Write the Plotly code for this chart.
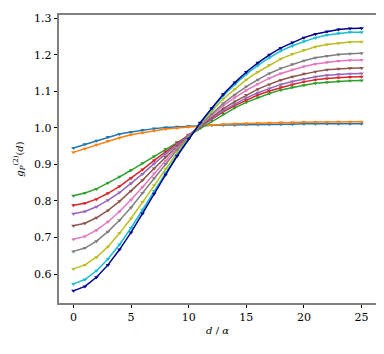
import plotly.graph_objects as go

# d / alpha
d = list(range(26))

blue = [0.945, 0.955, 0.965, 0.975, 0.983, 0.989, 0.994, 0.998, 1.001, 1.003, 1.005, 1.006, 1.007,
        1.008, 1.008, 1.009, 1.009, 1.010, 1.010, 1.010, 1.011, 1.011, 1.011, 1.011, 1.011, 1.011]
orange = [0.933, 0.943, 0.954, 0.964, 0.973, 0.981, 0.987, 0.992, 0.997, 1.000, 1.003, 1.006, 1.008,
          1.010, 1.011, 1.012, 1.013, 1.014, 1.015, 1.015, 1.016, 1.016, 1.016, 1.017, 1.017, 1.017]
green = [0.814, 0.822, 0.833, 0.849, 0.866, 0.884, 0.903, 0.922, 0.942, 0.961, 0.980, 1.000, 1.019,
         1.038, 1.055, 1.070, 1.083, 1.094, 1.104, 1.111, 1.117, 1.122, 1.125, 1.128, 1.129, 1.130]
red = [0.788, 0.794, 0.805, 0.821, 0.840, 0.862, 0.886, 0.911, 0.935, 0.959, 0.981, 1.003, 1.024,
       1.044, 1.061, 1.076, 1.090, 1.101, 1.111, 1.119, 1.126, 1.132, 1.135, 1.138, 1.139, 1.140]
purple = [0.765, 0.771, 0.784, 0.802, 0.823, 0.848, 0.874, 0.902, 0.929, 0.955, 0.980, 1.003, 1.026,
          1.047, 1.065, 1.082, 1.096, 1.108, 1.119, 1.127, 1.134, 1.140, 1.144, 1.147, 1.148, 1.149]
brown = [0.732, 0.739, 0.754, 0.774, 0.799, 0.827, 0.857, 0.889, 0.920, 0.950, 0.978, 1.005, 1.029,
         1.053, 1.072, 1.090, 1.106, 1.119, 1.131, 1.140, 1.148, 1.154, 1.159, 1.162, 1.163, 1.164]
pink = [0.695, 0.703, 0.720, 0.743, 0.771, 0.803, 0.838, 0.875, 0.910, 0.945, 0.976, 1.007, 1.034,
        1.061, 1.083, 1.103, 1.120, 1.136, 1.149, 1.159, 1.168, 1.175, 1.180, 1.183, 1.185, 1.186]
gray = [0.662, 0.671, 0.690, 0.716, 0.747, 0.782, 0.822, 0.862, 0.901, 0.940, 0.975, 1.008, 1.038,
        1.067, 1.091, 1.113, 1.132, 1.149, 1.163, 1.174, 1.184, 1.192, 1.197, 1.201, 1.203, 1.204]
olive = [0.614, 0.625, 0.646, 0.675, 0.712, 0.752, 0.797, 0.843, 0.888, 0.932, 0.973, 1.011, 1.046,
         1.079, 1.106, 1.132, 1.153, 1.172, 1.189, 1.202, 1.213, 1.222, 1.228, 1.232, 1.235, 1.236]
cyan = [0.573, 0.585, 0.609, 0.641, 0.681, 0.726, 0.776, 0.827, 0.877, 0.926, 0.971, 1.013, 1.052,
        1.088, 1.119, 1.147, 1.171, 1.192, 1.211, 1.225, 1.237, 1.247, 1.254, 1.259, 1.262, 1.262]
navy = [0.554, 0.566, 0.591, 0.625, 0.667, 0.714, 0.766, 0.820, 0.872, 0.923, 0.970, 1.014, 1.054,
        1.092, 1.124, 1.153, 1.178, 1.200, 1.219, 1.234, 1.247, 1.257, 1.264, 1.269, 1.272, 1.273]

series = [blue, orange, green, red, purple, brown, pink, gray, olive, cyan, navy]
colors = ['#1f77b4', '#ff7f0e', '#2ca02c', '#d62728', '#9467bd', '#8c564b',
          '#e377c2', '#7f7f7f', '#bcbd22', '#17becf', '#00008b']

fig = go.Figure()
for ys, c in zip(series, colors):
    fig.add_trace(go.Scatter(x=d, y=ys, mode='lines+markers',
                             line=dict(color=c, width=1.5),
                             marker=dict(symbol='triangle-down', size=4, color=c),
                             showlegend=False))

font = dict(family='DejaVu Serif', size=11, color='black')
axis = dict(showgrid=False, zeroline=False, showline=True, mirror=True, automargin=False,
            linecolor='#808080', linewidth=1.5, ticks='outside', ticklen=3.5,
            tickcolor='black', tickfont=font)

fig.update_xaxes(range=[-1.25, 26.25], tickvals=[0, 5, 10, 15, 20, 25],
                 title=dict(text='<i>d</i> / <i>α</i>', font=dict(family='DejaVu Serif', size=10), standoff=4),
                 **axis)
fig.update_yaxes(range=[0.5207, 1.309], tickvals=[0.6, 0.7, 0.8, 0.9, 1.0, 1.1, 1.2, 1.3],
                 tickformat='.1f',
                 title=dict(text='<i>g</i><sub><i>P</i></sub><sup>(2)</sup>(<i>d</i>)',
                            font=dict(family='DejaVu Serif', size=10), standoff=9),
                 **axis)
# page body adds an 8px margin, so the margins are shifted to compensate
fig.update_layout(width=384, height=354, margin=dict(l=51, r=16, t=7, b=59),
                  plot_bgcolor='white', paper_bgcolor='white', font=font)

fig.write_html("out.html")
